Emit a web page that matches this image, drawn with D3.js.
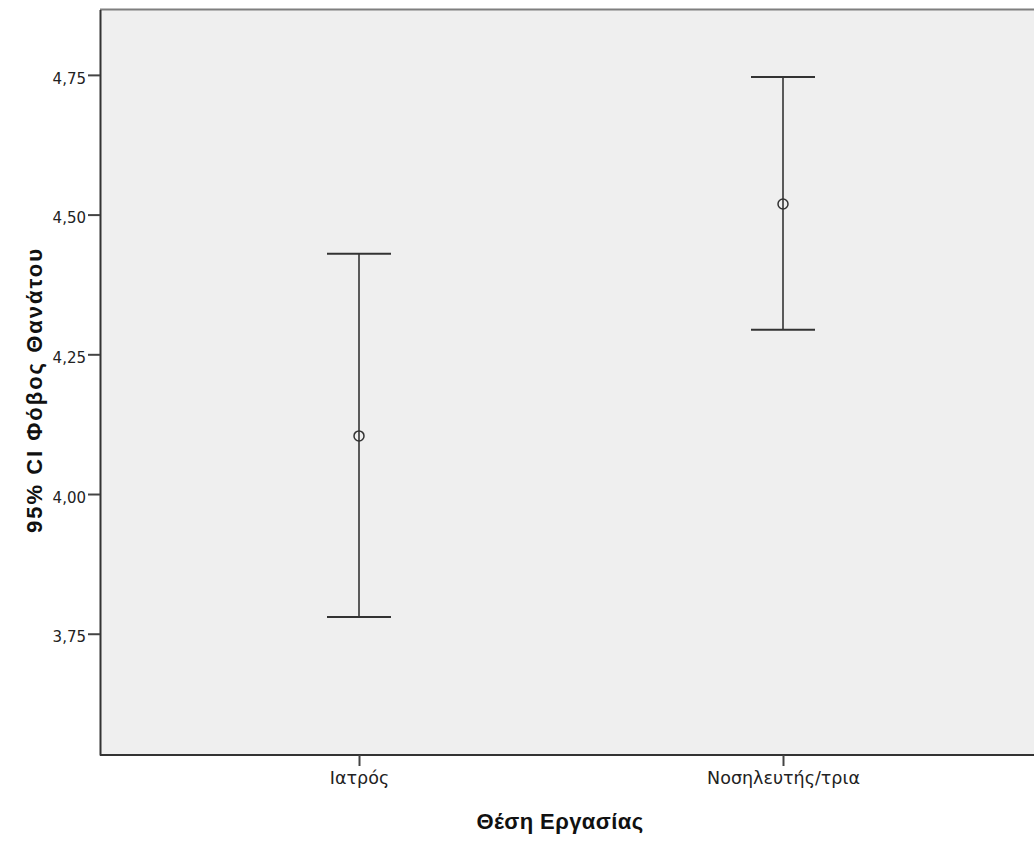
<!DOCTYPE html>
<html>
<head>
<meta charset="utf-8">
<script src="https://cdn.jsdelivr.net/npm/d3@7"></script>
<style>
  html, body { margin: 0; padding: 0; background: #ffffff; }
  svg { display: block; }
</style>
</head>
<body>
<svg id="chart" width="1034" height="842"></svg>
<script>
// Group means with 95% confidence intervals
const categories = ["Ιατρός", "Νοσηλευτής/τρια"];
const means = [4.104, 4.519];
const lowerCI = [3.78, 4.294];
const upperCI = [4.43, 4.746];
const yTicks = [3.75, 4.00, 4.25, 4.50, 4.75];

const svg = d3.select("#chart");
const plot = { left: 100, right: 1034, top: 9.5, bottom: 755 };

const x = d3.scalePoint().domain(categories).range([147, 995]).padding(0.5);
const y = d3.scaleLinear().domain([3.533, 4.867]).range([plot.bottom, plot.top]);

// Plot background
svg.append("rect")
  .attr("x", plot.left).attr("y", plot.top)
  .attr("width", plot.right - plot.left).attr("height", plot.bottom - plot.top)
  .attr("fill", "#efefef");

// Top frame line
svg.append("line")
  .attr("x1", plot.left).attr("x2", plot.right)
  .attr("y1", plot.top).attr("y2", plot.top)
  .attr("stroke", "#7f7f7f").attr("stroke-width", 2);

const fmt = d => d3.format(".2f")(d).replace(".", ",");
const tickFont = "'DejaVu Sans', Verdana, sans-serif";

// Y axis
const yAxis = svg.append("g")
  .attr("transform", `translate(${plot.left},0)`)
  .call(d3.axisLeft(y).tickValues(yTicks).tickSizeInner(12).tickSizeOuter(0).tickPadding(2).tickFormat(fmt));
yAxis.select(".domain").attr("stroke", "#333").attr("stroke-width", 2);
yAxis.selectAll(".tick line").attr("stroke", "#444").attr("stroke-width", 2);
yAxis.selectAll(".tick text")
  .attr("fill", "#222")
  .attr("dy", "0.55em")
  .style("font-family", tickFont)
  .style("font-size", "15px");

// X axis
const xAxis = svg.append("g")
  .attr("transform", `translate(0,${plot.bottom})`)
  .call(d3.axisBottom(x).tickSizeInner(11).tickSizeOuter(0).tickPadding(6));
xAxis.select(".domain").attr("d", `M${plot.left},0H${plot.right}`)
  .attr("stroke", "#333").attr("stroke-width", 2);
xAxis.selectAll(".tick line").attr("stroke", "#444").attr("stroke-width", 2);
xAxis.selectAll(".tick text")
  .attr("fill", "#222")
  .style("font-family", tickFont)
  .style("font-size", "17.5px");

// Error bars
const data = categories.map((c, i) => ({ c, m: means[i], lo: lowerCI[i], hi: upperCI[i] }));
const capHalf = 32;
const g = svg.append("g");
g.selectAll(".stem").data(data).join("line")
  .attr("x1", d => x(d.c)).attr("x2", d => x(d.c))
  .attr("y1", d => y(d.hi)).attr("y2", d => y(d.lo))
  .attr("stroke", "#5a5a5a").attr("stroke-width", 2);
g.selectAll(".capHi").data(data).join("line")
  .attr("x1", d => x(d.c) - capHalf).attr("x2", d => x(d.c) + capHalf)
  .attr("y1", d => y(d.hi)).attr("y2", d => y(d.hi))
  .attr("stroke", "#333").attr("stroke-width", 2);
g.selectAll(".capLo").data(data).join("line")
  .attr("x1", d => x(d.c) - capHalf).attr("x2", d => x(d.c) + capHalf)
  .attr("y1", d => y(d.lo)).attr("y2", d => y(d.lo))
  .attr("stroke", "#333").attr("stroke-width", 2);
g.selectAll(".mean").data(data).join("circle")
  .attr("cx", d => x(d.c)).attr("cy", d => y(d.m))
  .attr("r", 5)
  .attr("fill", "none").attr("stroke", "#333").attr("stroke-width", 1.5);

// Axis titles
svg.append("text")
  .attr("x", 560).attr("y", 829)
  .attr("text-anchor", "middle")
  .attr("fill", "#111")
  .style("font-family", "'Liberation Sans', Arial, sans-serif")
  .style("font-weight", "bold").style("font-size", "22px")
  .style("letter-spacing", "0.4px")
  .text("Θέση Εργασίας");

svg.append("text")
  .attr("transform", `translate(42,390) rotate(-90)`)
  .attr("text-anchor", "middle")
  .attr("fill", "#111")
  .style("font-family", "'Liberation Sans', Arial, sans-serif")
  .style("font-weight", "bold").style("font-size", "22px")
  .style("letter-spacing", "2px")
  .text("95% CI Φόβος Θανάτου");
</script>
</body>
</html>
